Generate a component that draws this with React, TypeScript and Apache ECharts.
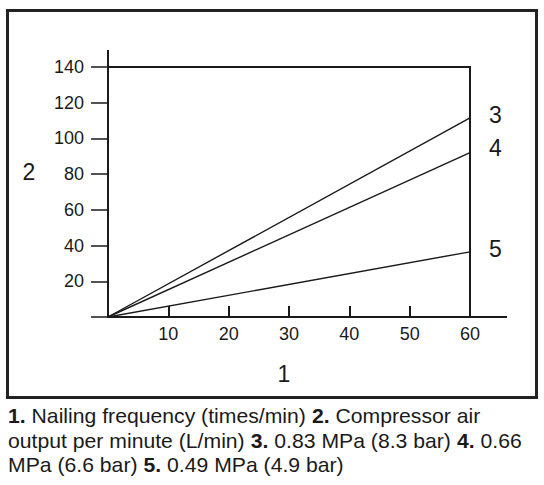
import React, { useEffect, useRef } from "react";
import * as echarts from "echarts";

const xValues = [0, 60];
const series3 = [0, 111.5];
const series4 = [0, 92];
const series5 = [0, 36.5];
const seriesNames = ["3", "4", "5"];
const xAxisName = "1";
const yAxisName = "2";
const captionLines = [
  [["b", "1."], ["n", " Nailing frequency (times/min) "], ["b", "2."], ["n", " Compressor air"]],
  [["n", "output per minute (L/min) "], ["b", "3."], ["n", " 0.83 MPa (8.3 bar) "], ["b", "4."], ["n", " 0.66"]],
  [["n", "MPa (6.6 bar) "], ["b", "5."], ["n", " 0.49 MPa (4.9 bar)"]],
];

const FONT = "'Liberation Sans', Arial, sans-serif";
const INK = "#1a1a1a";

export default function App() {
  const ref = useRef<HTMLDivElement>(null);
  useEffect(() => {
    if (!ref.current) return;
    const chart = echarts.init(ref.current, null, { renderer: "svg" });
    const allSeries = [series3, series4, series5];
    const caption = captionLines.map((parts, i) => ({
      type: "text",
      x: 8,
      y: 416 + i * 24.5,
      scaleX: 1.06,
      style: {
        text: parts.map(([k, t]) => `{${k}|${t}}`).join(""),
        verticalAlign: "middle",
        rich: {
          b: { fontFamily: FONT, fontSize: 20, fontWeight: "bold", fill: INK },
          n: { fontFamily: FONT, fontSize: 20, fill: INK },
        },
      },
    }));
    chart.setOption({
      animation: false,
      backgroundColor: "#fff",
      grid: {
        left: 108,
        top: 67,
        width: 362,
        height: 250,
        show: true,
        borderColor: INK,
        borderWidth: 2,
        backgroundColor: "transparent",
      },
      xAxis: {
        type: "value",
        min: 0,
        max: 60,
        interval: 10,
        name: xAxisName,
        nameLocation: "middle",
        nameGap: 45,
        nameTextStyle: { fontFamily: FONT, fontSize: 23, color: INK, padding: [0, 10, 0, 0] },
        axisLine: { show: true, lineStyle: { color: INK, width: 2 } },
        axisTick: { show: true, inside: true, length: 11, lineStyle: { color: INK, width: 2 } },
        axisLabel: {
          margin: 8,
          fontFamily: FONT,
          fontSize: 18,
          color: INK,
          formatter: (v: number) => (v === 0 ? "" : String(v)),
        },
        splitLine: { show: false },
      },
      yAxis: {
        type: "value",
        min: 0,
        max: 140,
        interval: 20,
        axisLine: { show: true, lineStyle: { color: INK, width: 2 } },
        axisTick: { show: true, length: 17, lineStyle: { color: INK, width: 1.5 } },
        axisLabel: {
          margin: 24,
          fontFamily: FONT,
          fontSize: 18,
          color: INK,
          formatter: (v: number) => (v === 0 ? "" : String(v)),
        },
        splitLine: { show: false },
      },
      series: allSeries.map((vals, i) => ({
        type: "line",
        name: seriesNames[i],
        data: vals.map((v, j) => [xValues[j], v]),
        showSymbol: false,
        symbol: "none",
        lineStyle: { color: INK, width: 1.4 },
        endLabel: {
          show: true,
          formatter: "{a}",
          distance: 19,
          offset: [0, i === 1 ? -5 : -3],
          fontFamily: FONT,
          fontSize: 23,
          color: INK,
        },
      })),
      graphic: [
        {
          type: "rect",
          shape: { x: 7.5, y: 10.5, width: 529, height: 387 },
          style: { fill: "none", stroke: "#222", lineWidth: 3 },
        },
        {
          type: "line",
          shape: { x1: 108, y1: 50, x2: 108, y2: 67 },
          style: { stroke: INK, lineWidth: 2 },
        },
        {
          type: "line",
          shape: { x1: 470, y1: 317, x2: 507, y2: 317 },
          style: { stroke: INK, lineWidth: 2 },
        },
        {
          type: "text",
          x: 29,
          y: 172,
          style: {
            text: yAxisName,
            align: "center",
            verticalAlign: "middle",
            fontFamily: FONT,
            fontSize: 23,
            fill: INK,
          },
        },
        ...caption,
      ],
    });
    return () => chart.dispose();
  }, []);
  return (
    <div
      ref={ref}
      style={{ position: "fixed", left: 0, top: 0, width: 544, height: 485, background: "#fff" }}
    />
  );
}
